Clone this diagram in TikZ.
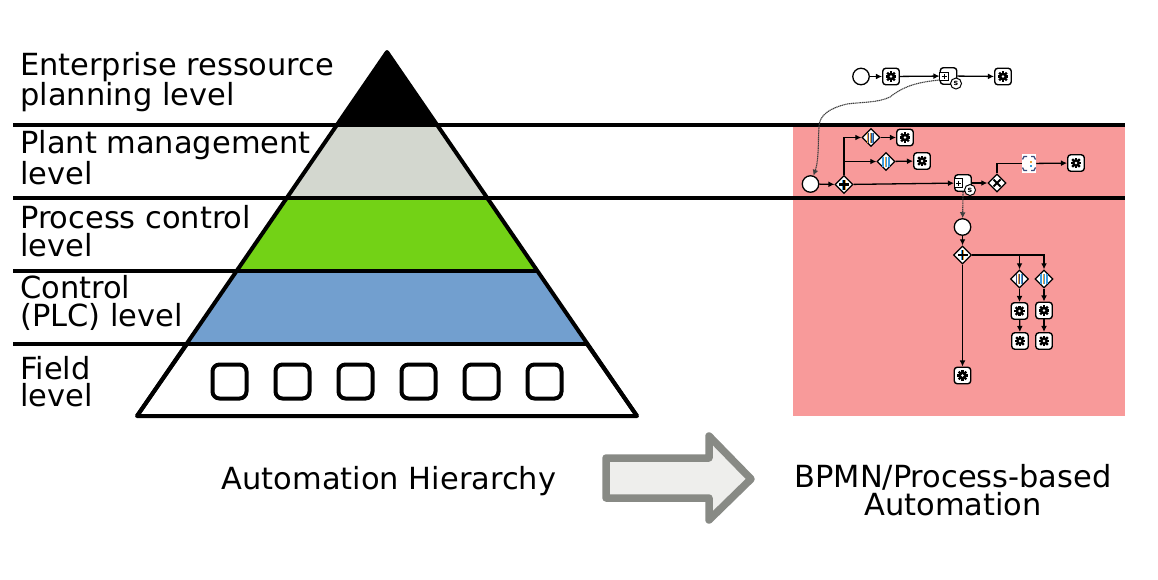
\documentclass[tikz,border=0pt]{standalone}
\usepackage{fontspec}
\setmainfont{DejaVu Sans}
\usetikzlibrary{arrows.meta,shapes.geometric}
\newdimen\pxu \pxu=0.03cm
\definecolor{redbg}{HTML}{F89A9A}
\definecolor{plantgrey}{HTML}{D3D7CF}
\definecolor{procgreen}{HTML}{73D216}
\definecolor{ctrlblue}{HTML}{729FCF}
\definecolor{arrowgrey}{HTML}{888A85}
\definecolor{arrowfill}{HTML}{EEEEEC}
\definecolor{barorange}{HTML}{E8A33D}
\definecolor{barblue}{HTML}{3B9BDD}
\definecolor{bardark}{HTML}{3A4A7A}
\tikzset{
 x=0.03cm,y=-0.03cm,
 pyr/.style={line width=4\pxu,line join=round},
 hrule/.style={line width=4\pxu},
 fieldbox/.style={draw,line width=4\pxu,fill=white,rounded corners=7\pxu,minimum size=34\pxu,inner sep=0pt},
 lab/.style={font=\fontsize{26pt}{23.3pt}\selectfont,align=left,anchor=west,inner sep=0pt},
 captext/.style={font=\fontsize{26pt}{23.8pt}\selectfont,align=center,inner sep=0pt},
 task/.style={draw,line width=1.4\pxu,fill=white,rounded corners=3\pxu,minimum size=16.5\pxu,inner sep=0pt},
 subproc/.style={task},
 innerbox/.style={draw,line width=1\pxu,fill=white,minimum size=8.5\pxu,inner sep=0pt},
 ev/.style={draw,line width=1.3\pxu,fill=white,circle,minimum size=16.5\pxu,inner sep=0pt},
 sev/.style={draw,line width=1\pxu,fill=white,circle,minimum size=11\pxu,inner sep=0pt,font=\fontsize{6.5pt}{6.5pt}\selectfont\bfseries},
 gw/.style={draw,line width=1.3\pxu,fill=white,diamond,aspect=1,minimum size=18\pxu,inner sep=0pt},
 flow/.style={line width=1.3\pxu,-{Latex[length=5.2pt,width=5pt]}},
 msg/.style={line width=1.1\pxu,black!75,dash pattern=on 1.1pt off .5pt,-{Latex[length=5pt,width=5pt]}},
 gearicon/.pic={
   \fill (0,0) circle[radius=3.9];
   \foreach \a in {0,45,...,315}{\fill[rotate=\a] (-1.2,-5.4) rectangle (1.2,0);}
   \fill[white] (0,0) circle[radius=1.3];
 },
 barsicon/.pic={
   \fill[barorange] (-4,-5) rectangle (-3.2,5);
   \fill[bardark] (-3.2,-5) rectangle (-2.2,5);
   \fill[barorange] (-1.2,-5) rectangle (-.4,5);
   \fill[bardark] (-.4,-5) rectangle (.6,5);
   \fill[barblue] (1.4,-5) rectangle (2.2,5);
   \fill[bardark] (2.2,-5) rectangle (3.2,5);
 },
 barsblue/.pic={
   \fill[barblue] (-4,-5) rectangle (-2.2,5);
   \fill[barorange] (-1,-5) rectangle (.4,5);
   \fill[barblue] (.4,-5) rectangle (1,5);
   \fill[barblue] (2.2,-5) rectangle (4,5);
 },
 plusicon/.pic={
   \fill (-5,-1.1) rectangle (5,1.1);
   \fill[barblue] (-1.6,-5) rectangle (-.6,5);
   \fill[barorange] (.6,-5) rectangle (1.6,5);
   \fill (-.7,-5) rectangle (.7,5);
   \fill (-5,-1.1) rectangle (5,1.1);
 },
 crossicon/.pic={
   \draw[line width=2\pxu] (-3.5,-3.5) -- (3.5,3.5) (-3.5,3.5) -- (3.5,-3.5);
 },
 minipluss/.pic={
   \draw[line width=1\pxu] (-2.5,0) -- (2.5,0) (0,-2.5) -- (0,2.5);
 },
}
\begin{document}
\begin{tikzpicture}
\useasboundingbox (0,0) rectangle (1158,579);
% red zone
\fill[redbg] (793,125) rectangle (1125,416);
% pyramid
\coordinate (apex) at (387,52);
\coordinate (bl) at (137,416);
\coordinate (br) at (637,416);
\fill (apex) -- (337,125) -- (437,125) -- cycle;
\fill[plantgrey] (337,125) -- (287,198) -- (487,198) -- (437,125) -- cycle;
\fill[procgreen] (287,198) -- (237,271) -- (537,271) -- (487,198) -- cycle;
\fill[ctrlblue] (237,271) -- (187,344) -- (587,344) -- (537,271) -- cycle;
\draw[pyr,fill=white] (187,344) -- (bl) -- (br) -- (587,344);
\draw[pyr] (bl) -- (apex) -- (br);
\coordinate (r1a) at (13,125); \coordinate (r1b) at (1125,125);
\coordinate (r2a) at (13,198); \coordinate (r2b) at (1125,198);
\coordinate (r3a) at (13,271); \coordinate (r3b) at (537,271);
\coordinate (r4a) at (13,344); \coordinate (r4b) at (587,344);
\draw[hrule] (r1a) -- (r1b);
\draw[hrule] (r2a) -- (r2b);
\draw[hrule] (r3a) -- (r3b);
\draw[hrule] (r4a) -- (r4b);
\foreach \i/\xx in {1/229.5,2/292.5,3/355.5,4/418.5,5/481.5,6/544.5}
  \node[fieldbox] (fb\i) at (\xx,381.5) {};
% labels
\node[lab] (l1) at (20,82) {Enterprise ressource\\planning level};
\node[lab] (l2) at (20,157.5) {Plant management\\level};
\node[lab] (l3) at (20,231) {Process control\\level};
\node[lab] (l4) at (20,303) {Control\\(PLC) level};
\node[lab] (l5) at (20,381.5) {Field\\level};
\node[captext] (c1) at (389,481) {Automation Hierarchy};
\node[captext] (c2) at (953,490.5) {BPMN/Process-based\\Automation};
% big arrow
\draw[line width=7.5\pxu,line join=round,draw=arrowgrey,fill=arrowfill]
  (606,458) -- (709,458) -- (709,436) -- (751,479) -- (709,520) -- (709,498) -- (606,498) -- cycle;
% BPMN nodes
\node[ev] (s1) at (861,76.5) {};
\node[task] (t1) at (891,76.5) {};
\node[subproc] (sp1) at (948.5,76) {};
\node[innerbox] (sp1i) at (944,76.5) {};
\pic at (sp1i) {minipluss};
\node[sev] (sp1s) at (956,83.5) {s};
\node[task] (t2) at (1003,76.5) {};
\node[ev] (s2) at (810.5,184) {};
\node[gw] (g1) at (844,184.5) {};
\node[gw] (g2) at (871,137.5) {};
\node[task] (t3) at (905,137.5) {};
\node[gw] (g3) at (886,161.5) {};
\node[task] (t4) at (922,161) {};
\node[subproc] (sp2) at (963,183) {};
\node[innerbox] (sp2i) at (958.5,183) {};
\pic at (sp2i) {minipluss};
\node[sev] (sp2s) at (970,190) {s};
\node[gw] (g4) at (997,183) {};
\node[fill=white,minimum width=14\pxu,minimum height=19\pxu,inner sep=0pt] (w1) at (1029,163.5) {};
\node[task] (t5) at (1076,163) {};
\node[ev] (s3) at (962.5,227) {};
\node[gw] (g5) at (962.5,255) {};
\node[task] (t6) at (962.5,375.5) {};
\node[gw] (g6) at (1019.5,279) {};
\node[gw] (g7) at (1044,279) {};
\node[task] (t7) at (1019.5,311) {};
\node[task] (t8) at (1044,310.5) {};
\node[task] (t9) at (1020,341) {};
\node[task] (t10) at (1044,341) {};
% icons
\foreach \n in {t1,t2,t3,t4,t5,t6,t7,t8,t9,t10} \pic at (\n) {gearicon};
\pic at (g1) {plusicon};
\pic at (g5) {plusicon};
\pic at (g2) {barsicon};
\pic at (g3) {barsblue};
\pic at (g6) {barsicon};
\pic at (g7) {barsblue};
\pic at (g4) {crossicon};
% glyph on white box
\draw[line width=1.2\pxu,bardark] ([shift={(-2,-7)}]w1.center) -- ++(-3,0) -- ++(-1.5,3);
\draw[line width=1.2\pxu,bardark] ([shift={(-2,7)}]w1.center) -- ++(-3,0) -- ++(-1.5,-3);
\draw[line width=1.2\pxu,bardark] ([shift={(2,-7)}]w1.center) -- ++(3,0) -- ++(1.5,3);
\draw[line width=1.2\pxu,bardark] ([shift={(2,7)}]w1.center) -- ++(3,0) -- ++(1.5,-3);
\fill[barorange] ([shift={(.5,-3)}]w1.center) rectangle ++(2,2);
\fill[barblue] ([shift={(.5,1)}]w1.center) rectangle ++(2,2);
% flows
\draw[flow] (s1) -- (t1);
\draw[flow] (t1) -- (sp1);
\draw[flow] (sp1) -- (t2);
\draw[flow] (s2) -- (g1);
\draw[flow] (g1.north) |- (g2);
\coordinate (g1up) at (844,161.5);
\draw[flow] (g1up) -- (g3);
\draw[flow] (g2) -- (t3);
\draw[flow] (g3) -- (t4);
\draw[flow] (g1) -- (sp2);
\draw[flow] (sp2) -- (g4);
\draw[line width=1.3\pxu] (g4.north) |- (w1.west);
\draw[flow] (w1) -- (t5);
\draw[msg] ([yshift=-4\pxu]sp1.west) .. controls (920,82) and (905,85) .. (890,97)
  .. controls (878,103) and (860,102) .. (847,104)
  .. controls (830,108) and (819,115) .. (819,127)
  .. controls (818,140) and (819,160) .. (s2);
\draw[msg] (sp2.south) -- (s3);
\draw[flow] (s3) -- (g5);
\draw[flow] (g5) -- (t6);
\draw[flow] (g5.east) -| (g6.north);
\draw[flow] (g5.east) -| (g7.north);
\draw[flow] (g6) -- (t7);
\draw[flow] (g7) -- (t8);
\draw[flow] (t7) -- (t9);
\draw[flow] (t8) -- (t10);
\end{tikzpicture}
\end{document}
